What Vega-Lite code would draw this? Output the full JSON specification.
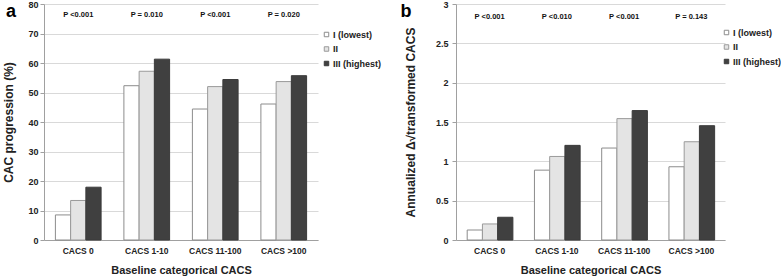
{
  "$schema": "https://vega.github.io/schema/vega-lite/v6.json",
  "padding": {"left": 2, "top": 0, "right": 0, "bottom": 0},
  "spacing": 19,
  "config": {
    "font": "Liberation Sans",
    "view": {"stroke": null},
    "axis": {
      "labelFontWeight": "bold",
      "labelColor": "#222222",
      "titleFontWeight": "bold",
      "titleColor": "#222222",
      "domainColor": "#a0a0a0",
      "tickColor": "#a0a0a0",
      "gridColor": "#d9d9d9",
      "labelOverlap": false
    },
    "legend": {
      "orient": "none",
      "symbolType": "square",
      "symbolSize": 20,
      "labelFontSize": 9,
      "labelFontWeight": "bold",
      "labelColor": "#222222",
      "rowPadding": 4.5,
      "labelOffset": 2,
      "padding": 0,
      "symbolStrokeColor": "#8c8c8c",
      "symbolStrokeWidth": 1
    },
    "title": {"color": "#000000", "fontSize": 18, "fontWeight": "bold", "anchor": "start", "frame": "bounds"}
  },
  "resolve": {"legend": {"fill": "independent", "stroke": "independent"}, "scale": {"fill": "independent", "stroke": "independent", "y": "independent"}},
  "hconcat": [
    {
      "width": 274,
      "height": 236,
      "title": {"text": "a", "offset": -16, "dx": 3, "dy": 5},
      "layer": [
        {
          "data": {"values": [
            {"cat": "CACS 0", "tertile": "I (lowest)", "value": 8.5},
            {"cat": "CACS 0", "tertile": "II", "value": 13.4},
            {"cat": "CACS 0", "tertile": "III (highest)", "value": 17.9},
            {"cat": "CACS 1-10", "tertile": "I (lowest)", "value": 52.3},
            {"cat": "CACS 1-10", "tertile": "II", "value": 57.2},
            {"cat": "CACS 1-10", "tertile": "III (highest)", "value": 61.3},
            {"cat": "CACS 11-100", "tertile": "I (lowest)", "value": 44.4},
            {"cat": "CACS 11-100", "tertile": "II", "value": 52.0},
            {"cat": "CACS 11-100", "tertile": "III (highest)", "value": 54.4},
            {"cat": "CACS >100", "tertile": "I (lowest)", "value": 46.1},
            {"cat": "CACS >100", "tertile": "II", "value": 53.7},
            {"cat": "CACS >100", "tertile": "III (highest)", "value": 55.7}
          ]},
          "mark": {"type": "bar", "strokeWidth": 1},
          "encoding": {
            "x": {"field": "cat", "type": "nominal", "sort": null,
              "scale": {"paddingInner": 0.333, "paddingOuter": 0.1665},
              "title": "Baseline categorical CACS",
              "axis": {"ticks": false, "grid": false, "labelAngle": 0, "labelFontSize": 8.5, "labelPadding": 6, "titleFontSize": 11, "titlePadding": 10}},
            "xOffset": {"field": "tertile", "type": "nominal", "sort": null, "scale": {"paddingInner": 0, "paddingOuter": 0}},
            "y": {"field": "value", "type": "quantitative", "scale": {"domain": [0, 80], "nice": false},
              "title": "CAC progression (%)",
              "axis": {"tickCount": 8, "labelOverlap": false, "grid": true, "tickSize": 4, "labelPadding": 2, "titlePadding": 12, "labelFontSize": 9, "titleFontSize": 12}},
            "fill": {"field": "tertile", "type": "nominal", "sort": null,
              "scale": {"domain": ["I (lowest)", "II", "III (highest)"], "range": ["#ffffff", "#e4e4e4", "#404040"]},
              "legend": {"title": null, "legendX": 278, "legendY": 26}},
            "stroke": {"field": "tertile", "type": "nominal", "sort": null,
              "scale": {"domain": ["I (lowest)", "II", "III (highest)"], "range": ["#8c8c8c", "#9a9a9a", "#3a3a3a"]},
              "legend": null}
          }
        },
        {
          "data": {"values": [
            {"cat": "CACS 0", "p": "P <0.001"},
            {"cat": "CACS 1-10", "p": "P = 0.010"},
            {"cat": "CACS 11-100", "p": "P <0.001"},
            {"cat": "CACS >100", "p": "P = 0.020"}
          ]},
          "mark": {"type": "text", "fontSize": 7.5, "fontWeight": "bold", "color": "#111111", "baseline": "middle"},
          "encoding": {
            "x": {"field": "cat", "type": "nominal", "sort": null},
            "y": {"datum": 76.2, "type": "quantitative"},
            "text": {"field": "p"}
          }
        }
      ]
    },
    {
      "width": 269,
      "height": 236,
      "title": {"text": "b", "offset": -16, "dx": -4, "dy": 5},
      "layer": [
        {
          "data": {"values": [
            {"cat": "CACS 0", "tertile": "I (lowest)", "value": 0.127},
            {"cat": "CACS 0", "tertile": "II", "value": 0.204},
            {"cat": "CACS 0", "tertile": "III (highest)", "value": 0.289},
            {"cat": "CACS 1-10", "tertile": "I (lowest)", "value": 0.888},
            {"cat": "CACS 1-10", "tertile": "II", "value": 1.062},
            {"cat": "CACS 1-10", "tertile": "III (highest)", "value": 1.203},
            {"cat": "CACS 11-100", "tertile": "I (lowest)", "value": 1.169},
            {"cat": "CACS 11-100", "tertile": "II", "value": 1.543},
            {"cat": "CACS 11-100", "tertile": "III (highest)", "value": 1.645},
            {"cat": "CACS >100", "tertile": "I (lowest)", "value": 0.931},
            {"cat": "CACS >100", "tertile": "II", "value": 1.249},
            {"cat": "CACS >100", "tertile": "III (highest)", "value": 1.453}
          ]},
          "mark": {"type": "bar", "strokeWidth": 1},
          "encoding": {
            "x": {"field": "cat", "type": "nominal", "sort": null,
              "scale": {"paddingInner": 0.333, "paddingOuter": 0.1665},
              "title": "Baseline categorical CACS",
              "axis": {"ticks": false, "grid": false, "labelAngle": 0, "labelFontSize": 8.5, "labelPadding": 6, "titleFontSize": 11, "titlePadding": 10}},
            "xOffset": {"field": "tertile", "type": "nominal", "sort": null, "scale": {"paddingInner": 0, "paddingOuter": 0}},
            "y": {"field": "value", "type": "quantitative", "scale": {"domain": [0, 3], "nice": false},
              "title": "Annualized Δ√transformed CACS",
              "axis": {"tickCount": 6, "labelOverlap": false, "grid": true, "format": "~g", "tickSize": 4, "labelPadding": 4, "titlePadding": 18, "labelFontSize": 9, "titleFontSize": 12}},
            "fill": {"field": "tertile", "type": "nominal", "sort": null,
              "scale": {"domain": ["I (lowest)", "II", "III (highest)"], "range": ["#ffffff", "#e4e4e4", "#404040"]},
              "legend": {"title": null, "legendX": 266, "legendY": 24}},
            "stroke": {"field": "tertile", "type": "nominal", "sort": null,
              "scale": {"domain": ["I (lowest)", "II", "III (highest)"], "range": ["#8c8c8c", "#9a9a9a", "#3a3a3a"]},
              "legend": null}
          }
        },
        {
          "data": {"values": [
            {"cat": "CACS 0", "p": "P <0.001"},
            {"cat": "CACS 1-10", "p": "P <0.010"},
            {"cat": "CACS 11-100", "p": "P <0.001"},
            {"cat": "CACS >100", "p": "P = 0.143"}
          ]},
          "mark": {"type": "text", "fontSize": 7.5, "fontWeight": "bold", "color": "#111111", "baseline": "middle"},
          "encoding": {
            "x": {"field": "cat", "type": "nominal", "sort": null},
            "y": {"datum": 2.835, "type": "quantitative"},
            "text": {"field": "p"}
          }
        }
      ]
    }
  ]
}
